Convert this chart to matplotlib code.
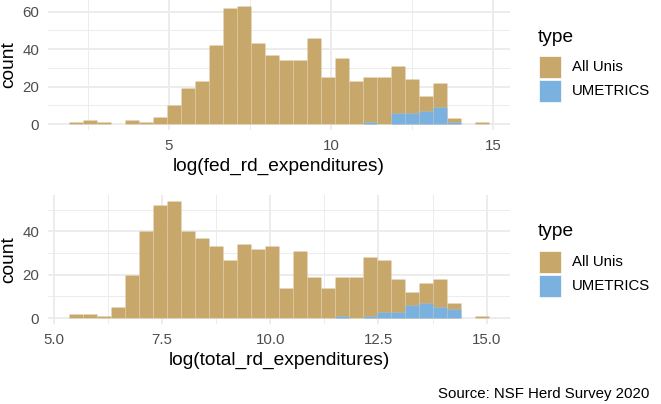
import numpy as np
import matplotlib
matplotlib.use("Agg")
import matplotlib.pyplot as plt
from matplotlib.patches import Rectangle
from matplotlib.ticker import MultipleLocator

# ---------------- data ----------------
types = ["All Unis", "UMETRICS"]
colors = {"All Unis": "#C8A76B", "UMETRICS": "#7BB1DE"}

# top panel: log(fed_rd_expenditures), 30 bins
fed_bin_start = 1.92
fed_bin_width = 0.432
fed_all = [1, 2, 1, 0, 2, 1, 4, 10, 19, 23, 42, 62, 63, 43, 37,
           34, 34, 46, 25, 35, 23, 25, 25, 31, 24, 15, 22, 3, 0, 1]
fed_umetrics = [0, 0, 0, 0, 0, 0, 0, 0, 0, 0, 0, 0, 0, 0, 0,
                0, 0, 0, 0, 0, 0, 1, 0, 6, 6, 7, 9, 1, 0, 0]

# bottom panel: log(total_rd_expenditures), 30 bins
tot_bin_start = 5.347
tot_bin_width = 0.3236
tot_all = [2, 2, 1, 5, 20, 40, 52, 54, 40, 37, 33, 27, 34, 32, 33,
           14, 31, 19, 14, 19, 19, 28, 27, 18, 12, 16, 18, 7, 0, 1]
tot_umetrics = [0, 0, 0, 0, 0, 0, 0, 0, 0, 0, 0, 0, 0, 0, 0,
                0, 0, 0, 0, 1, 0, 1, 3, 3, 6, 7, 5, 4, 0, 0]

fed_xticks = [5, 10, 15]
fed_yticks = [0, 20, 40, 60]
tot_xticks = [5.0, 7.5, 10.0, 12.5, 15.0]
tot_yticks = [0, 20, 40]

caption = "Source: NSF Herd Survey 2020"

# ---------------- figure ----------------
W, H = 661, 404
DPI = 100
plt.rcParams["font.family"] = ["Liberation Sans", "DejaVu Sans"]
fig = plt.figure(figsize=(W / DPI, H / DPI), dpi=DPI)
fig.patch.set_facecolor("white")


def px_axes(left, top, right, bottom):
    return fig.add_axes([left / W, 1 - bottom / H, (right - left) / W, (bottom - top) / H])


def draw_hist(ax, start, width, all_counts, um_counts, xticks, yticks,
              xminor, yminor, xlabel, fmt):
    n = len(all_counts)
    lefts = start + width * np.arange(n)
    ax.bar(lefts, all_counts, width=width, align="edge",
           color=colors["All Unis"], edgecolor=(1, 1, 1, 0.15), linewidth=0.5, zorder=2)
    ax.bar(lefts, um_counts, width=width, align="edge",
           color=colors["UMETRICS"], edgecolor=(1, 1, 1, 0.15), linewidth=0.5, zorder=3)
    x0, x1 = start, start + width * n
    xr = x1 - x0
    ax.set_xlim(x0 - 0.05 * xr, x1 + 0.05 * xr)
    ymax = max(all_counts)
    ax.set_ylim(-0.05 * ymax, ymax * 1.05)
    ax.set_xticks(xticks)
    ax.set_xticklabels([fmt(t) for t in xticks])
    ax.set_yticks(yticks)
    ax.xaxis.set_minor_locator(MultipleLocator(xminor))
    ax.yaxis.set_minor_locator(MultipleLocator(yminor))
    ax.grid(which="major", color="#EBEBEB", linewidth=1.3, zorder=0)
    ax.grid(which="minor", color="#EBEBEB", linewidth=0.65, zorder=0)
    ax.set_axisbelow(True)
    for s in ax.spines.values():
        s.set_visible(False)
    ax.tick_params(which="both", length=0, labelsize=10.8, labelcolor="#4D4D4D", pad=6.3)
    ax.set_xlabel(xlabel, fontsize=13.8, color="black", labelpad=4)
    ax.set_ylabel("count", fontsize=13.8, color="black", labelpad=4)
    ax.set_facecolor("white")


ax1 = px_axes(48, 0, 510, 130)
draw_hist(ax1, fed_bin_start, fed_bin_width, fed_all, fed_umetrics,
          fed_xticks, fed_yticks, 2.5, 10, "log(fed_rd_expenditures)",
          lambda t: f"{t:g}")

ax2 = px_axes(48, 195, 510, 324)
draw_hist(ax2, tot_bin_start, tot_bin_width, tot_all, tot_umetrics,
          tot_xticks, tot_yticks, 1.25, 10, "log(total_rd_expenditures)",
          lambda t: f"{t:.1f}")


def legend(top_offset):
    fig.text(538 / W, 1 - (top_offset + 37) / H, "type", fontsize=13.8,
             ha="left", va="center")
    for i, t in enumerate(types):
        ktop = top_offset + 56 + i * 24
        fig.add_artist(Rectangle((539 / W, 1 - (ktop + 22) / H), 22 / W, 22 / H,
                                 transform=fig.transFigure, facecolor=colors[t],
                                 edgecolor="white", linewidth=0.5))
        fig.text(572 / W, 1 - (ktop + 11) / H, t, fontsize=10.8,
                 ha="left", va="center")


legend(0)
legend(194.5)

fig.text(649 / W, 1 - 394 / H, caption, fontsize=10.8, ha="right", va="center")

fig.savefig("out.png", dpi=DPI, facecolor="white")
